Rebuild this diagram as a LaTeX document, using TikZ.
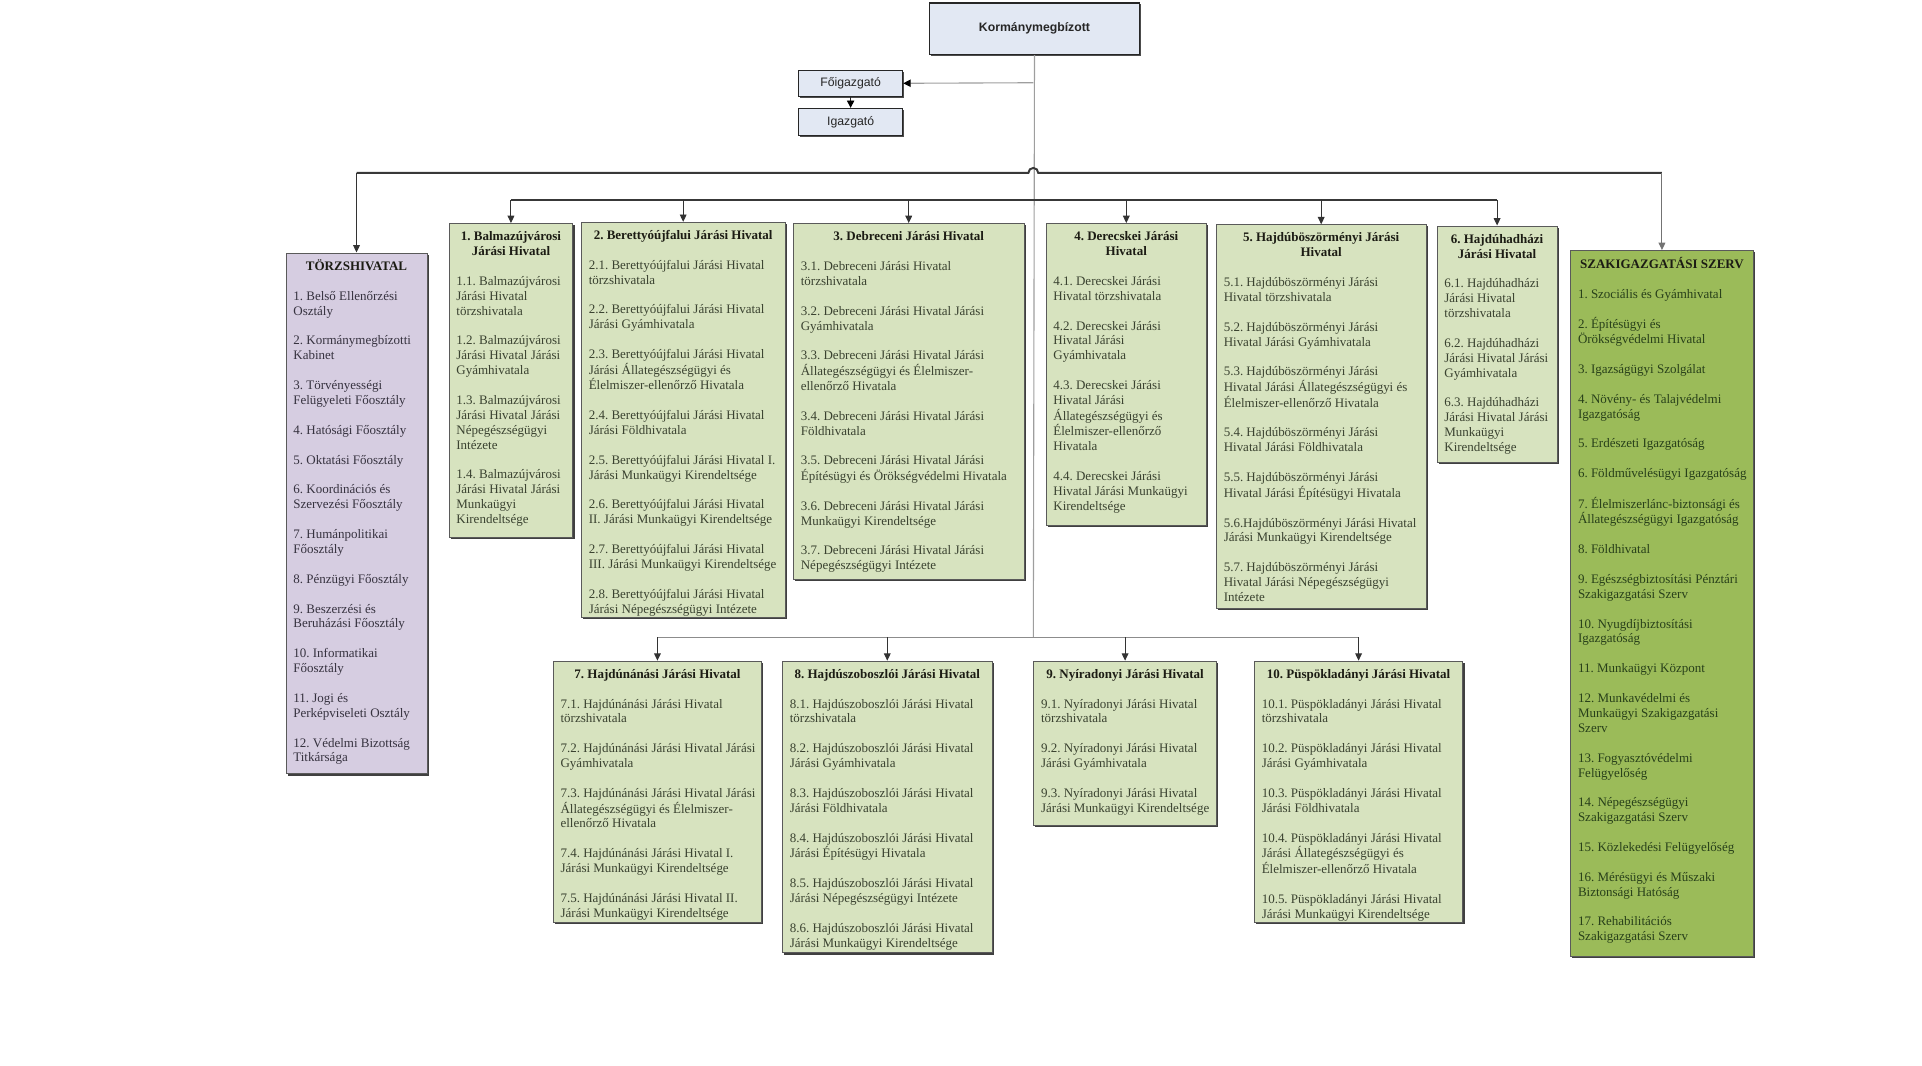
\documentclass[tikz,border=0pt]{standalone}
\usepackage{fontspec}
\setmainfont{Liberation Serif}
\newfontfamily\arialf{Liberation Sans}
\usetikzlibrary{arrows.meta,shadows}
\frenchspacing
\definecolor{torzsfill}{HTML}{D6CDE1}
\definecolor{greenfill}{HTML}{D7E3BF}
\definecolor{szakfill}{HTML}{9BBB59}
\definecolor{bluefill}{HTML}{E2E8F3}
\definecolor{bordercol}{HTML}{5A5A5A}
\definecolor{greentext}{HTML}{3A4230}
\definecolor{torzstext}{HTML}{36323F}
\definecolor{szaktext}{HTML}{28401A}
\definecolor{hdcol}{HTML}{1C1C14}
\newlength\hdw
\newcommand\hd[1]{\makebox[\hdw][c]{\color{hdcol}\bfseries #1}}
\newcommand\gp{\\[12.15pt]}
\newcommand\orgbox[7]{\node[#6,anchor=north west] (#1) at (#2,#3) {\frenchspacing\setlength\hdw{\dimexpr #4pt-12pt\relax}\parbox[c][#5pt][t]{\hdw}{\vspace*{5.5pt}\begin{tabular}[t]{@{}l@{}}#7\end{tabular}}};}
\tikzset{
 ob/.style={draw=bordercol, line width=0.7pt, inner xsep=6pt, inner ysep=0pt,
   font=\fontsize{10.6}{12.15}\selectfont,
   drop shadow={shadow xshift=1.4pt,shadow yshift=-1.4pt,fill=black!75,opacity=1}},
 gbox/.style={ob, fill=greenfill, text=greentext},
 tbox/.style={ob, fill=torzsfill, text=torzstext},
 sbox/.style={ob, fill=szakfill, text=szaktext},
 topbox/.style={draw=black!85, line width=0.9pt, fill=bluefill, inner sep=0pt, anchor=north west,
   text=black!85, drop shadow={shadow xshift=1.2pt,shadow yshift=-1.2pt,fill=black!70,opacity=1}},
 tip/.style={-{Triangle[length=6pt,width=5.5pt]}},
 blacktip/.style={-{Triangle[length=6pt,width=6pt,fill=black,color=black]}},
 bus/.style={draw=black!78, line width=1.6pt},
 thinbus/.style={draw=black!45, line width=0.9pt},
 trunk/.style={draw=black!38, line width=0.9pt},
 drop/.style={tip, draw=black!80, line width=0.8pt},
 dropg/.style={tip, draw=black!55, line width=0.8pt},
}
\begin{document}
\begin{tikzpicture}[x=1pt,y=-1pt]
\useasboundingbox (0,0) rectangle (1568,868.85);
% top boxes
\node[topbox, minimum width=171pt, minimum height=42pt, font=\arialf\bfseries\fontsize{10}{12}\selectfont] (km) at (758,2) {Kormánymegbízott};
\node[topbox, minimum width=85pt, minimum height=21pt, font=\arialf\fontsize{10}{12}\selectfont] (fo) at (651,57) {Főigazgató};
\node[topbox, minimum width=85pt, minimum height=22pt, font=\arialf\fontsize{10}{12}\selectfont] (ig) at (651,88) {Igazgató};
% Törzshivatal
\orgbox{tz}{233}{206}{115}{425}{tbox}{\hd{TÖRZSHIVATAL}\gp
1. Belső Ellenőrzési\\ Osztály\gp
2. Kormánymegbízotti\\ Kabinet\gp
3. Törvényességi\\ Felügyeleti Főosztály\gp
4. Hatósági Főosztály\gp
5. Oktatási Főosztály\gp
6. Koordinációs és\\ Szervezési Főosztály\gp
7. Humánpolitikai\\ Főosztály\gp
8. Pénzügyi Főosztály\gp
9. Beszerzési és\\ Beruházási Főosztály\gp
10. Informatikai\\ Főosztály\gp
11. Jogi és\\ Perképviseleti Osztály\gp
12. Védelmi Bizottság\\ Titkársága}
% 1
\orgbox{n1}{366}{182}{101}{256}{gbox}{\hd{1. Balmazújvárosi}\\ \hd{Járási Hivatal}\gp
1.1. Balmazújvárosi\\ Járási Hivatal\\ törzshivatala\gp
1.2. Balmazújvárosi\\ Járási Hivatal Járási\\ Gyámhivatala\gp
1.3. Balmazújvárosi\\ Járási Hivatal Járási\\ Népegészségügyi\\ Intézete\gp
1.4. Balmazújvárosi\\ Járási Hivatal Járási\\ Munkaügyi\\ Kirendeltsége}
% 2
\orgbox{n2}{474}{181}{166}{322}{gbox}{\hd{2. Berettyóújfalui Járási Hivatal}\gp
2.1. Berettyóújfalui Járási Hivatal\\ törzshivatala\gp
2.2. Berettyóújfalui Járási Hivatal\\ Járási Gyámhivatala\gp
2.3. Berettyóújfalui Járási Hivatal\\ Járási Állategészségügyi és\\ Élelmiszer-ellenőrző Hivatala\gp
2.4. Berettyóújfalui Járási Hivatal\\ Járási Földhivatala\gp
2.5. Berettyóújfalui Járási Hivatal I.\\ Járási Munkaügyi Kirendeltsége\gp
2.6. Berettyóújfalui Járási Hivatal\\ II. Járási Munkaügyi Kirendeltsége\gp
2.7. Berettyóújfalui Járási Hivatal\\ III. Járási Munkaügyi Kirendeltsége\gp
2.8. Berettyóújfalui Járási Hivatal\\ Járási Népegészségügyi Intézete}
% 3
\orgbox{n3}{647}{182}{188}{290}{gbox}{\hd{3. Debreceni Járási Hivatal}\gp
3.1. Debreceni Járási Hivatal\\ törzshivatala\gp
3.2. Debreceni Járási Hivatal Járási\\ Gyámhivatala\gp
3.3. Debreceni Járási Hivatal Járási\\ Állategészségügyi és Élelmiszer-\\ ellenőrző Hivatala\gp
3.4. Debreceni Járási Hivatal Járási\\ Földhivatala\gp
3.5. Debreceni Járási Hivatal Járási\\ Építésügyi és Örökségvédelmi Hivatala\gp
3.6. Debreceni Járási Hivatal Járási\\ Munkaügyi Kirendeltsége\gp
3.7. Debreceni Járási Hivatal Járási\\ Népegészségügyi Intézete}
% 4
\orgbox{n4}{853}{182}{131}{246}{gbox}{\hd{4. Derecskei Járási}\\ \hd{Hivatal}\gp
4.1. Derecskei Járási\\ Hivatal törzshivatala\gp
4.2. Derecskei Járási\\ Hivatal Járási\\ Gyámhivatala\gp
4.3. Derecskei Járási\\ Hivatal Járási\\ Állategészségügyi és\\ Élelmiszer-ellenőrző\\ Hivatala\gp
4.4. Derecskei Járási\\ Hivatal Járási Munkaügyi\\ Kirendeltsége}
% 5
\orgbox{n5}{992}{183}{171}{313}{gbox}{\hd{5. Hajdúböszörményi Járási}\\ \hd{Hivatal}\gp
5.1. Hajdúböszörményi Járási\\ Hivatal törzshivatala\gp
5.2. Hajdúböszörményi Járási\\ Hivatal Járási Gyámhivatala\gp
5.3. Hajdúböszörményi Járási\\ Hivatal Járási Állategészségügyi és\\ Élelmiszer-ellenőrző Hivatala\gp
5.4. Hajdúböszörményi Járási\\ Hivatal Járási Földhivatala\gp
5.5. Hajdúböszörményi Járási\\ Hivatal Járási Építésügyi Hivatala\gp
5.6.Hajdúböszörményi Járási Hivatal\\ Járási Munkaügyi Kirendeltsége\gp
5.7. Hajdúböszörményi Járási\\ Hivatal Járási Népegészségügyi\\ Intézete}
% 6
\orgbox{n6}{1172}{184}{98}{193}{gbox}{\hd{6. Hajdúhadházi}\\ \hd{Járási Hivatal}\gp
6.1. Hajdúhadházi\\ Járási Hivatal\\ törzshivatala\gp
6.2. Hajdúhadházi\\ Járási Hivatal Járási\\ Gyámhivatala\gp
6.3. Hajdúhadházi\\ Járási Hivatal Járási\\ Munkaügyi\\ Kirendeltsége}
% Szakigazgatási
\orgbox{sz}{1281}{204}{149}{576}{sbox}{\hd{SZAKIGAZGATÁSI SZERV}\gp
1. Szociális és Gyámhivatal\gp
2. Építésügyi és\\ Örökségvédelmi Hivatal\gp
3. Igazságügyi Szolgálat\gp
4. Növény- és Talajvédelmi\\ Igazgatóság\gp
5. Erdészeti Igazgatóság\gp
6. Földművelésügyi Igazgatóság\gp
7. Élelmiszerlánc-biztonsági és\\ Állategészségügyi Igazgatóság\gp
8. Földhivatal\gp
9. Egészségbiztosítási Pénztári\\ Szakigazgatási Szerv\gp
10. Nyugdíjbiztosítási\\ Igazgatóság\gp
11. Munkaügyi Központ\gp
12. Munkavédelmi és\\ Munkaügyi Szakigazgatási\\ Szerv\gp
13. Fogyasztóvédelmi\\ Felügyelőség\gp
14. Népegészségügyi\\ Szakigazgatási Szerv\gp
15. Közlekedési Felügyelőség\gp
16. Mérésügyi és Műszaki\\ Biztonsági Hatóság\gp
17. Rehabilitációs\\ Szakigazgatási Szerv}
% 7
\orgbox{n7}{451}{539}{170}{213}{gbox}{\hd{7. Hajdúnánási Járási Hivatal}\gp
7.1. Hajdúnánási Járási Hivatal\\ törzshivatala\gp
7.2. Hajdúnánási Járási Hivatal Járási\\ Gyámhivatala\gp
7.3. Hajdúnánási Járási Hivatal Járási\\ Állategészségügyi és Élelmiszer-\\ ellenőrző Hivatala\gp
7.4. Hajdúnánási Járási Hivatal I.\\ Járási Munkaügyi Kirendeltsége\gp
7.5. Hajdúnánási Járási Hivatal II.\\ Járási Munkaügyi Kirendeltsége}
% 8
\orgbox{n8}{638}{539}{171}{238}{gbox}{\hd{8. Hajdúszoboszlói Járási Hivatal}\gp
8.1. Hajdúszoboszlói Járási Hivatal\\ törzshivatala\gp
8.2. Hajdúszoboszlói Járási Hivatal\\ Járási Gyámhivatala\gp
8.3. Hajdúszoboszlói Járási Hivatal\\ Járási Földhivatala\gp
8.4. Hajdúszoboszlói Járási Hivatal\\ Járási Építésügyi Hivatala\gp
8.5. Hajdúszoboszlói Járási Hivatal\\ Járási Népegészségügyi Intézete\gp
8.6. Hajdúszoboszlói Járási Hivatal\\ Járási Munkaügyi Kirendeltsége}
% 9
\orgbox{n9}{843}{539}{149}{134}{gbox}{\hd{9. Nyíradonyi Járási Hivatal}\gp
9.1. Nyíradonyi Járási Hivatal\\ törzshivatala\gp
9.2. Nyíradonyi Járási Hivatal\\ Járási Gyámhivatala\gp
9.3. Nyíradonyi Járási Hivatal\\ Járási Munkaügyi Kirendeltsége}
% 10
\orgbox{n10}{1023}{539}{170}{213}{gbox}{\hd{10. Püspökladányi Járási Hivatal}\gp
10.1. Püspökladányi Járási Hivatal\\ törzshivatala\gp
10.2. Püspökladányi Járási Hivatal\\ Járási Gyámhivatala\gp
10.3. Püspökladányi Járási Hivatal\\ Járási Földhivatala\gp
10.4. Püspökladányi Járási Hivatal\\ Járási Állategészségügyi és\\ Élelmiszer-ellenőrző Hivatala\gp
10.5. Püspökladányi Járási Hivatal\\ Járási Munkaügyi Kirendeltsége}
% connectors
\coordinate (fj) at (843,67.5);
\coordinate (hl) at (839,141);
\coordinate (hr) at (847,141);
\coordinate (b2) at (843,163);
\coordinate (b3) at (843,520);
\draw[trunk] (km.south) -- (b3);
\draw[trunk, blacktip] (fj) -- (fo.east);
\draw[blacktip, draw=black!85, line width=0.8pt] (fo.south) -- (ig.north);
% top bus with hop
\draw[bus] (tz.north |- hl) -- (hl) arc[start angle=180, end angle=0, radius=4pt] -- (sz.north |- hr);
\draw[drop] (tz.north |- hl) -- (tz.north);
\draw[dropg] (sz.north |- hr) -- (sz.north);
% second bus
\draw[bus] (b2 -| n1.north) -- (b2 -| n6.north);
\foreach \n in {n1,n2,n3,n4,n5,n6} \draw[drop] (b2 -| \n.north) -- (\n.north);
% bottom bus
\draw[thinbus] (b3 -| n7.north) -- (b3 -| n10.north);
\foreach \n in {n7,n8,n9,n10} \draw[drop] (b3 -| \n.north) -- (\n.north);
\end{tikzpicture}
\end{document}
